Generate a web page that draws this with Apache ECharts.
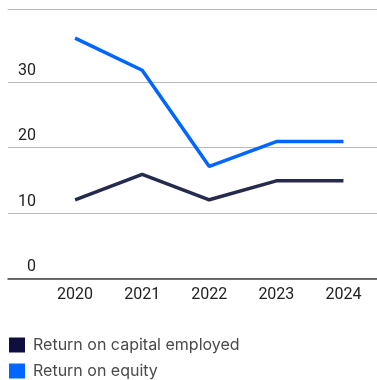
<!DOCTYPE html>
<html>
<head>
<meta charset="utf-8">
<script src="https://cdn.jsdelivr.net/npm/echarts@6/dist/echarts.min.js"></script>
<style>
  html, body { margin: 0; padding: 0; background: #fff; }
  #chart { width: 377px; height: 380px; }
</style>
</head>
<body>
<div id="chart"></div>
<script>
// 年份 & 两条序列
const years = [2020, 2021, 2022, 2023, 2024];
const roce = [12.0, 15.9, 12.0, 14.9, 14.9];
const roe = [36.7, 31.8, 17.1, 20.9, 20.9];
const yTicks = [0, 10, 20, 30];

const seriesNames = ["Return on capital employed", "Return on equity"];
const colors = ["#0f0f3d", "#0066ff"];
const lineColors = ["#262b4d", "#0066ff"];

const chart = echarts.init(document.getElementById("chart"));

const option = {
  animation: false,
  textStyle: { fontFamily: "Roboto" },
  grid: { left: 8, right: 0, top: 16.6, bottom: 101.7 },
  legend: {
    orient: "vertical",
    left: 9,
    top: 337,
    padding: 0,
    icon: "rect",
    itemWidth: 16,
    itemHeight: 15,
    itemGap: 10,
    textStyle: { color: "#4a4a4a", fontSize: 16, fontFamily: "Inter", padding: [0, 0, 0, 3] },
    data: seriesNames.map((name, i) => ({ name, itemStyle: { color: colors[i] } })),
  },
  xAxis: [
    {
      type: "value",
      min: years[0] - 1,
      max: years[years.length - 1] + 0.5,
      interval: 1,
      axisLine: { show: true, onZero: false, lineStyle: { color: "#444", width: 1.5 } },
      axisTick: { show: false },
      splitLine: { show: false },
      axisLabel: {
        color: "#222",
        fontSize: 16,
        margin: 9,
        showMaxLabel: false,
        formatter: (v) => (years.includes(v) ? String(v) : ""),
      },
    },
    {
      // 顶部细线
      type: "value",
      position: "top",
      offset: 7,
      min: years[0] - 1,
      max: years[years.length - 1] + 0.5,
      axisLine: { show: true, onZero: false, lineStyle: { color: "#bbb", width: 1 } },
      axisTick: { show: false },
      axisLabel: { show: false },
      splitLine: { show: false },
    },
  ],
  yAxis: {
    type: "value",
    min: 0,
    max: 40,
    interval: 10,
    axisLine: { show: false },
    axisTick: { show: false, customValues: yTicks },
    splitLine: { show: true, lineStyle: { color: "#bbb", width: 1 } },
    axisLabel: {
      customValues: yTicks,
      inside: true,
      align: "right",
      verticalAlign: "bottom",
      margin: 28,
      padding: [0, 0, 3, 0],
      color: "#222",
      fontSize: 16,
    },
  },
  series: [roce, roe].map((vals, i) => ({
    name: seriesNames[i],
    type: "line",
    data: years.map((y, j) => [y, vals[j]]),
    symbol: "none",
    color: colors[i],
    lineStyle: { color: lineColors[i], width: 3.5 },
  })),
};

chart.setOption(option);
</script>
</body>
</html>
